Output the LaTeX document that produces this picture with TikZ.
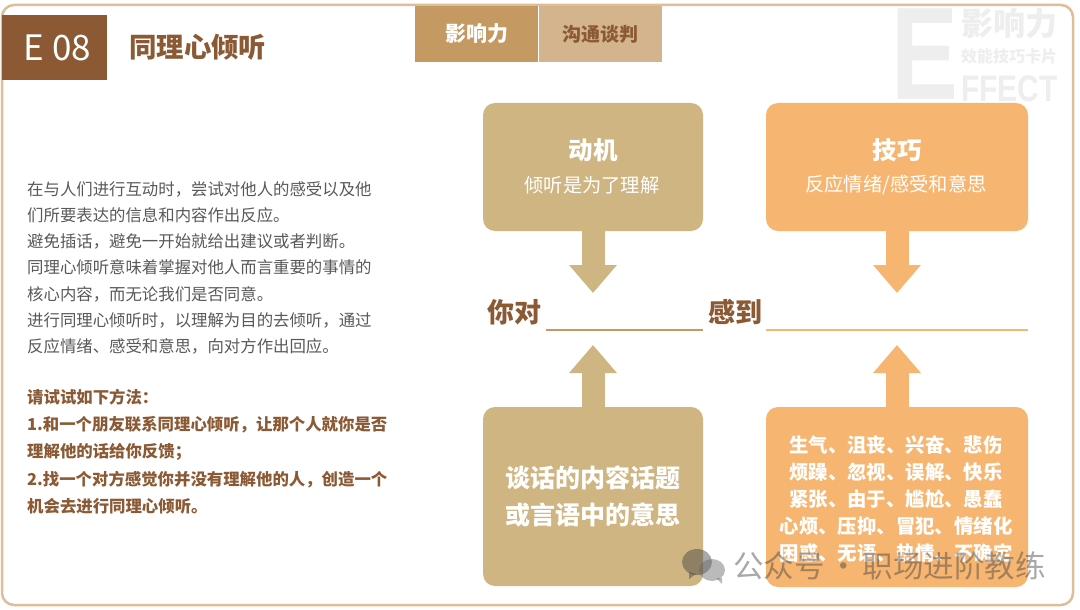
\documentclass[tikz,border=0pt]{standalone}
\usepackage{fontspec}
\setmainfont{Noto Sans CJK SC}
\newfontfamily\latinfont{Liberation Sans}
\usetikzlibrary{positioning,calc,arrows.meta}

\definecolor{brownmain}{HTML}{8B5A35}
\definecolor{tanframe}{HTML}{DDBE97}
\definecolor{tabone}{HTML}{C59A62}
\definecolor{tabtwo}{HTML}{D3B48C}
\definecolor{khaki}{HTML}{CFB582}
\definecolor{peach}{HTML}{F6B671}
\definecolor{bodygray}{HTML}{595959}
\definecolor{markgray}{HTML}{EEEEEE}

\newcommand{\fsize}[2]{\fontsize{#1}{#2}\selectfont}

\tikzset{
  card/.style={rounded corners=12pt,inner sep=0pt,text=white,align=center,font=\bfseries},
  tabbox/.style={inner sep=0pt,minimum height=56pt,minimum width=123.5pt,font=\bfseries\fsize{21}{24}},
  blockarrow/.style={line width=23pt,-{Triangle[length=28pt,width=46pt]}},
  fillline/.style={line width=2pt},
  bgmark/.style={text=markgray,inner sep=0pt,anchor=west},
  sidetext/.style={inner sep=0pt,anchor=north west,align=left}
}

\begin{document}
\begin{tikzpicture}[x=1pt,y=-1pt]
  \useasboundingbox (0,0) rectangle (1080,610);
  \fill[white] (0,0) rectangle (1080,610);

  % background mark
  \node[bgmark,xscale=.76,font=\latinfont\bfseries\fsize{132}{132}] (markE) at (891,54) {E};
  \node[bgmark,font=\bfseries\fsize{32}{32}] (markA) at (961,23) {影响力};
  \node[bgmark,font=\bfseries\fsize{16}{16}] (markB) at (961,56) {效能技巧卡片};
  \node[bgmark,xscale=.81,font=\latinfont\bfseries\fsize{37}{37}] (markC) at (961,89) {FFECT};

  \draw[tanframe,line width=2.5pt,rounded corners=12pt] (2,5) rectangle (1073,605);

  % header
  \node[fill=brownmain,text=white,inner sep=0pt,minimum width=105pt,minimum height=65pt,font=\fsize{35}{36}] (code) at (54.5,48) {\hspace{6pt}E 08};
  \node[inner sep=0pt,anchor=west,text=brownmain,font=\bfseries\fsize{27.4}{30}] (title) at (129,47) {同理心倾听};
  \node[tabbox,fill=tabone,text=white] (tabA) at (476.5,34) {影响力};
  \node[tabbox,fill=tabtwo,text=brownmain,font=\bfseries\fsize{19}{24},right=0pt of tabA] (tabB) {沟通谈判};

  % left text
  \node[sidetext,text=bodygray,font=\fsize{16.4}{26.3}] (intro) at (27,181) {在与人们进行互动时，尝试对他人的感受以及他\\
    们所要表达的信息和内容作出反应。\\
    避免插话，避免一开始就给出建议或者判断。\\
    同理心倾听意味着掌握对他人而言重要的事情的\\
    核心内容，而无论我们是否同意。\\
    进行同理心倾听时，以理解为目的去倾听，通过\\
    反应情绪、感受和意思，向对方作出回应。};
  \node[sidetext,text=brownmain,font=\bfseries\fsize{16.4}{27.2}] (steps) at (27,389) {请试试如下方法：\\
    1.和一个朋友联系同理心倾听，让那个人就你是否\\
    理解他的话给你反馈；\\
    2.找一个对方感觉你并没有理解他的人，创造一个\\
    机会去进行同理心倾听。};

  % cards
  \node[card,fill=khaki,minimum width=220pt,minimum height=128pt] (motive) at (593,167) {};
  \node[card,fill=peach,minimum width=262pt,minimum height=128pt] (skill) at (897,167) {};
  \node[card,fill=khaki,minimum width=220pt,minimum height=179pt,font=\bfseries\fsize{25}{37.5}] (topic) at (593,496.5) {谈话的内容话题\\或言语中的意思};
  \node[card,fill=peach,minimum width=262pt,minimum height=180pt] (feel) at (897,497) {};

  \node[text=white,inner sep=0pt,font=\bfseries\fsize{24.5}{28}] (motiveT) at (593,150) {动机};
  \node[text=white,inner sep=0pt,font=\fsize{19.3}{24}] (motiveS) at (592,185) {倾听是为了理解};
  \node[text=white,inner sep=0pt,font=\bfseries\fsize{24.5}{28}] (skillT) at (897,150) {技巧};
  \node[text=white,inner sep=0pt,font=\fsize{19.3}{24}] (skillS) at (896,185) {反应情绪/感受和意思};
  \node[text=white,inner sep=0pt,align=center,font=\bfseries\fsize{19.4}{27}] (feelT) at (896,499) {生气、沮丧、兴奋、悲伤\\
    烦躁、忽视、误解、快乐\\
    紧张、由于、尴尬、愚蠢\\
    心烦、压抑、冒犯、情绪化\\
    困惑、无语、热情、不确定};

  % sentence line
  \node[inner sep=0pt,anchor=west,text=brownmain,font=\bfseries\fsize{27}{30}] (you) at (487,312) {你对};
  \node[inner sep=0pt,anchor=west,text=brownmain,font=\bfseries\fsize{27}{30}] (feels) at (708,312) {感到};
  \coordinate (lineAa) at (546,330);
  \coordinate (lineAb) at (703,330);
  \coordinate (lineBa) at (766,330);
  \coordinate (lineBb) at (1028,330);
  \draw[fillline,tabone] (lineAa) -- (lineAb);
  \draw[fillline,peach] (lineBa) -- (lineBb);

  % arrows
  \coordinate (tipA) at (593,293);
  \coordinate (tipB) at (897,293);
  \coordinate (tipC) at (593,345);
  \coordinate (tipD) at (897,345);
  \draw[blockarrow,khaki] (motive.south) -- (tipA);
  \draw[blockarrow,peach] (skill.south) -- (tipB);
  \draw[blockarrow,khaki] (topic.north) -- (tipC);
  \draw[blockarrow,peach] (feel.north) -- (tipD);

  % watermark
  \begin{scope}[opacity=.45]
    \fill[black!75] (697,562) ellipse (15pt and 13pt);
    \fill[black!75] (689,572) -- (696,574) -- (689,579) -- cycle;
    \fill[black!60] (712,570) ellipse (13pt and 11pt);
    \fill[black!60] (716,578) -- (722,578) -- (722,584) -- cycle;
    \node[inner sep=0pt,anchor=west,text=black!75,font=\fsize{30.5}{32}] (wmark) at (733,566) {公众号\hspace{-3pt} · \hspace{-3pt}职场进阶教练};
  \end{scope}
\end{tikzpicture}
\end{document}
